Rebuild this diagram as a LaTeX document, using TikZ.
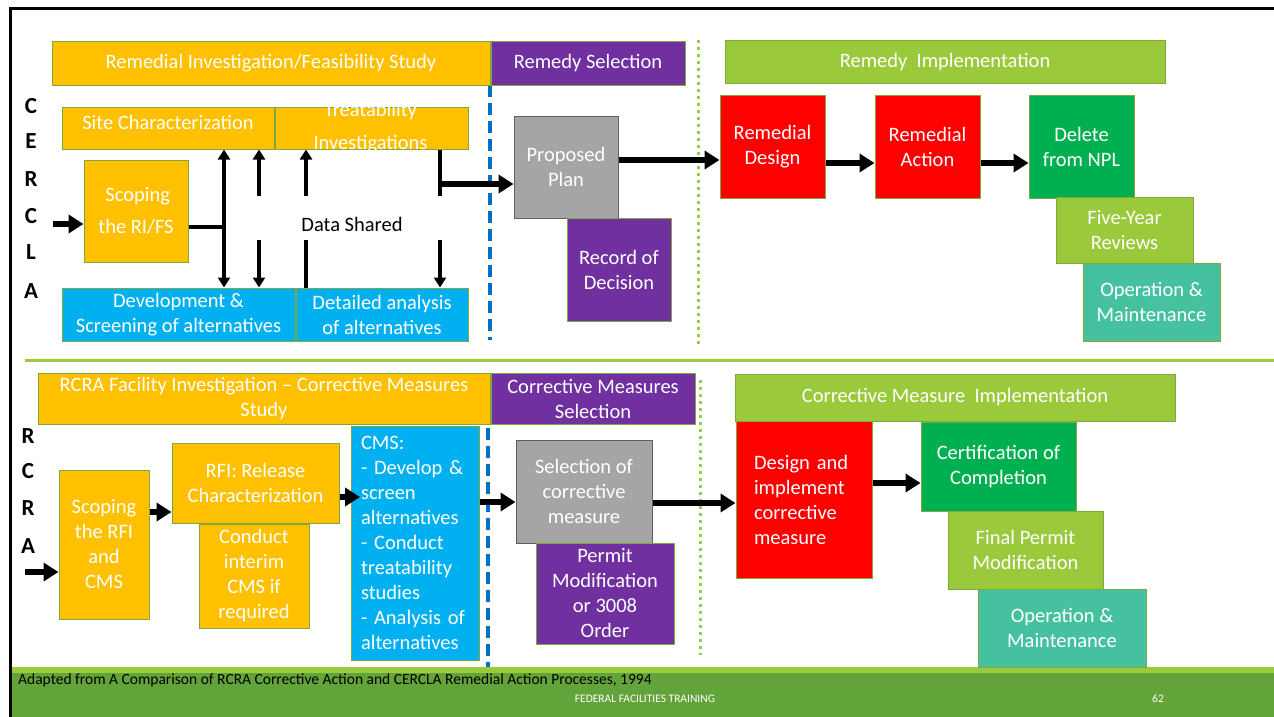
\documentclass[tikz,border=0pt]{standalone}
\usepackage{fontspec}
\setmainfont{Carlito}
\usetikzlibrary{arrows.meta,positioning}
\definecolor{riorange}{HTML}{FFC000}
\definecolor{selpurple}{HTML}{7030A0}
\definecolor{implgreen}{HTML}{9ACA3C}
\definecolor{altblue}{HTML}{00B0F0}
\definecolor{plangrey}{HTML}{A5A5A5}
\definecolor{actred}{HTML}{FF0000}
\definecolor{donegreen}{HTML}{00B050}
\definecolor{omteal}{HTML}{45C1A0}
\definecolor{edgegreen}{HTML}{7FA93A}
\definecolor{dashblue}{HTML}{0070C0}
\definecolor{dotgreen}{HTML}{92D050}
\definecolor{bandlight}{HTML}{9BCB3C}
\definecolor{banddark}{HTML}{62A33A}

\begin{document}
\begin{tikzpicture}[x=1pt,y=-1pt,node distance=0pt,
stage/.style={rectangle,draw=edgegreen,line width=1pt,inner sep=0pt,align=center,text=white,font=\fontsize{20.5}{25}\selectfont},
orangebox/.style={stage,fill=riorange},
purplebox/.style={stage,fill=selpurple},
limebox/.style={stage,fill=implgreen},
bluebox/.style={stage,fill=altblue},
greybox/.style={stage,fill=plangrey,draw=gray!75!black},
redbox/.style={stage,fill=actred},
greenbox/.style={stage,fill=donegreen},
tealbox/.style={stage,fill=omteal},
sideletter/.style={font=\fontsize{23}{25}\selectfont\bfseries,inner sep=0pt},
bigpath/.style={->,line width=5.5pt,>={Triangle[length=15pt,width=18pt]}},
datapath/.style={->,line width=3.3pt,>={Triangle[length=10pt,width=12pt]}},
datapair/.style={<->,line width=3.3pt,>={Triangle[length=10pt,width=12pt]}},
dataline/.style={line width=3.3pt},
]
\useasboundingbox (0,0) rectangle (1274,717);

% footer band
\fill [bandlight] (12,667) rectangle (1274,673);
\fill [banddark] (12,673) rectangle (1274,717);
\node [anchor=west,inner sep=0pt,font=\fontsize{15.5}{17}\selectfont] (source) at (18,680) {Adapted from A Comparison of RCRA Corrective Action and CERCLA Remedial Action Processes, 1994};
\node [text=white,inner sep=0pt,font=\fontsize{11.5}{13}\selectfont] (footer) at (645,699) {FEDERAL FACILITIES TRAINING};
\node [text=white,inner sep=0pt,font=\fontsize{11.5}{13}\selectfont] (pageno) at (1158,699) {62};
\draw [line width=3pt] (1274,9) -- (10.5,9) -- (10.5,717);
\draw [bandlight,line width=3pt] (25,360) -- (1274,360);

% dividers
\draw [dashblue,line width=3.5pt,dash pattern=on 12pt off 6pt] (490,85) -- (490,340);
\draw [dotgreen,line width=3pt,dash pattern=on 3pt off 4pt] (698,40) -- (698,345);
\draw [dashblue,line width=3.5pt,dash pattern=on 12pt off 6pt] (488,428) -- (488,667);
\draw [dotgreen,line width=3pt,dash pattern=on 3pt off 4pt] (700,380) -- (700,655);

\foreach \ch/\yy [count=\i] in {C/106,E/141,R/179,C/216,L/252,A/291}
{
\node [sideletter] (cer\i) at (31,\yy) {\ch};
}
\foreach \ch/\yy [count=\i] in {R/436,C/471,R/508,A/546}
{
\node [sideletter] (rcr\i) at (28,\yy) {\ch};
}

% CERCLA
\node [orangebox,minimum width=438pt,minimum height=43pt] (RIFS) at (271,63.5) {Remedial Investigation/Feasibility Study};
\node [purplebox,minimum width=194pt,minimum height=43pt] (RemSel) [right=of RIFS] {Remedy Selection};
\node [limebox,minimum width=440pt,minimum height=42pt] (RemImpl) at (945,62) {Remedy~ Implementation};

\node [orangebox,minimum width=212pt,minimum height=42pt,text depth=12pt] (SiteChar) at (168,128) {Site Characterization};
\node [orangebox,minimum width=193pt,minimum height=42pt] (Treat) [right=of SiteChar] {};
\node [text=white,align=center,inner sep=0pt,font=\fontsize{20.5}{33}\selectfont] (TreatText) at (370.5,127.5) {Treatability\\Investigations};
\node [orangebox,minimum width=104pt,minimum height=102pt,font=\fontsize{20.5}{32}\selectfont] (Scope) at (136,211) {\,Scoping\\the RI/FS};
\node [bluebox,minimum width=233pt,minimum height=53pt] (DevScr) at (178.5,314.5) {Development \&\\Screening of alternatives};
\node [bluebox,minimum width=172pt,minimum height=53pt] (Detail) [right=of DevScr] {Detailed analysis\\of alternatives};
\node [font=\fontsize{20.5}{25}\selectfont,inner sep=0pt] (Shared) at (352,224) {Data Shared};

\node [greybox,minimum width=104pt,minimum height=102pt] (PropPlan) at (566,167) {Proposed\\Plan};
\node [purplebox,minimum width=104pt,minimum height=103pt] (RecDec) at (619,269.5) {Record of\\Decision};
\node [redbox,minimum width=105pt,minimum height=103pt] (RemDes) at (772.5,146.5) {Remedial\\Design};
\node [redbox,minimum width=105pt,minimum height=103pt] (RemAct) at (927.5,146.5) {Remedial\\Action};
\node [greenbox,minimum width=105pt,minimum height=103pt] (Delete) at (1081.5,146.5) {Delete\\from NPL};
\node [limebox,minimum width=137pt,minimum height=66pt] (FiveYr) at (1124.5,230) {Five-Year\\Reviews};
\node [tealbox,minimum width=137pt,minimum height=78pt] (OandMa) at (1151.5,302) {Operation \&\\Maintenance};

\coordinate (inC) at (53,224);
\draw [bigpath] (inC) -- (inC -| Scope.west);
\coordinate (J1) at (224,227);
\draw [dataline] (J1 -| Scope.east) -- (J1);
\draw [datapair] (J1 |- SiteChar.south) -- (J1 |- DevScr.north);
\coordinate (G1) at (259,196);
\coordinate (H1) at (259,240);
\draw [datapath] (G1) -- (G1 |- SiteChar.south);
\draw [datapath] (H1) -- (H1 |- DevScr.north);
\coordinate (G2) at (306,196);
\coordinate (H2) at (306,240);
\draw [datapath] (G2) -- (G2 |- Treat.south);
\draw [dataline] (H2) -- (H2 |- Detail.north);
\coordinate (G3) at (440,196);
\coordinate (H3) at (440,240);
\draw [dataline] (G3 |- Treat.south) -- (G3);
\draw [datapath] (H3) -- (H3 |- Detail.north);
\coordinate (T1) at (440,184);
\draw [bigpath] (T1) -- (T1 -| PropPlan.west);
\coordinate (P1) at (0,160);
\draw [bigpath] (P1 -| PropPlan.east) -- (P1 -| RemDes.west);
\coordinate (P2) at (0,163);
\draw [bigpath] (P2 -| RemDes.east) -- (P2 -| RemAct.west);
\draw [bigpath] (P2 -| RemAct.east) -- (P2 -| Delete.west);

% RCRA
\node [orangebox,minimum width=452pt,minimum height=51pt] (RFICMS) at (264,398.5) {RCRA Facility Investigation -- Corrective Measures\\Study};
\node [purplebox,minimum width=204pt,minimum height=51pt] (CMSel) [right=of RFICMS] {Corrective Measures\\Selection};
\node [limebox,minimum width=440pt,minimum height=47pt] (CMImpl) at (955,397.5) {Corrective Measure~ Implementation};

\node [orangebox,minimum width=90pt,minimum height=149pt] (Scope2) at (104,544.5) {Scoping\\the RFI\\and\\CMS};
\node [orangebox,minimum width=167pt,minimum height=80pt] (RFI) at (255.5,483) {RFI: Release\\Characterization};
\node [orangebox,minimum width=110pt,minimum height=104pt] (Interim) at (254,576) {Conduct\\interim\\CMS if\\required};
\node [bluebox,minimum width=128pt,minimum height=234pt,text width=108pt,align=left] (CMS) at (415,543) {CMS:\\- Develop \&\\screen\\alternatives\\- Conduct\\treatability\\studies\\- Analysis of\\alternatives};
\node [greybox,minimum width=136pt,minimum height=103pt] (SelCM) at (584,491.5) {Selection of\\corrective\\measure};
\node [purplebox,minimum width=138pt,minimum height=101pt] (Permit) at (605,593.5) {Permit\\Modification\\or 3008\\Order};
\node [redbox,minimum width=136pt,minimum height=157pt,text width=100pt,align=left] (Design) at (804,499.5) {Design and\\implement\\corrective\\measure};
\node [greenbox,minimum width=155pt,minimum height=89pt] (Cert) at (998.5,466.5) {Certification of\\Completion};
\node [limebox,minimum width=155pt,minimum height=78pt] (FinalPermit) at (1025.5,550) {Final Permit\\Modification};
\node [tealbox,minimum width=168pt,minimum height=78pt] (OandMb) at (1062,628) {Operation \&\\Maintenance};

\coordinate (inR) at (25,572);
\draw [bigpath] (inR) -- (inR -| Scope2.west);
\coordinate (R1) at (0,512);
\draw [bigpath] (R1 -| Scope2.east) -- (R1 -| RFI.west);
\coordinate (R2) at (360,497);
\draw [bigpath] (R2 -| RFI.east) -- (R2);
\coordinate (R3) at (0,502);
\draw [bigpath] (R3 -| CMS.east) -- (R3 -| SelCM.west);
\coordinate (R4) at (0,503);
\draw [bigpath] (R4 -| SelCM.east) -- (R4 -| Design.west);
\coordinate (R5) at (0,483);
\draw [bigpath] (R5 -| Design.east) -- (R5 -| Cert.west);

\end{tikzpicture}
\end{document}
